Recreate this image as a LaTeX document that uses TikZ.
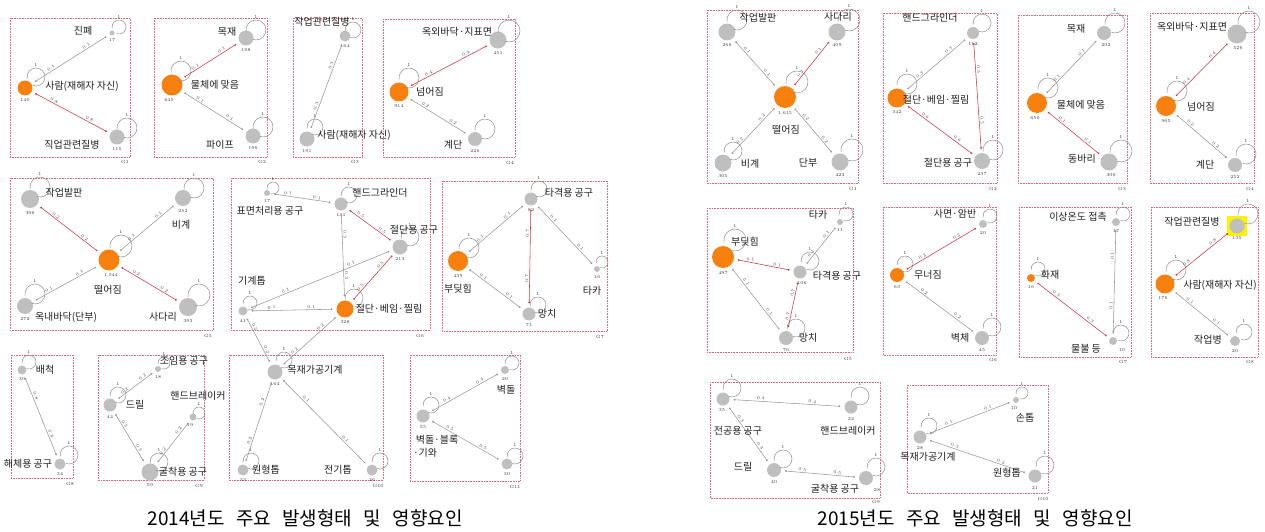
\documentclass[tikz,border=0pt]{standalone}
\usepackage{fontspec}
\newfontfamily\kr{Noto Sans CJK KR}
\usetikzlibrary{arrows.meta,calc}
\definecolor{norange}{RGB}{247,128,14}
\definecolor{ngray}{RGB}{191,191,191}
\definecolor{ered}{RGB}{200,55,70}
\definecolor{egray}{RGB}{150,150,150}
\definecolor{lgray}{RGB}{140,140,140}
\definecolor{boxred}{RGB}{232,100,120}
\tikzset{
 gn/.style={circle, fill=ngray, inner sep=0pt},
 on/.style={circle, fill=norange, inner sep=0pt},
 num/.style={font=\fontsize{4.5}{5}\selectfont, inner sep=0pt, text=black!80},
 lbl/.style={font=\kr\fontsize{10}{11}\selectfont, inner sep=0pt, text=black!88},
 el/.style={font=\fontsize{4.5}{5}\selectfont, sloped, above=0.6pt, inner sep=0.5pt, text=black!70},
 ge/.style={draw=egray, line width=.55pt, arrows={Circle[length=1.8pt]-Circle[length=1.8pt]}, shorten <=4pt, shorten >=4pt},
 re/.style={ge, draw=ered},
 lps/.style={draw=lgray, line width=.5pt},
 gbox/.style={draw=boxred, densely dotted, line width=.6pt},
 captxt/.style={font=\kr\fontsize{19}{22}\selectfont, inner sep=0pt},
}
\newcommand\nd[7]{\node[#2, minimum size=#5pt] (#1) at (#3,#4) {};
  \node[num] (#1n) at ({#3+#7},{#4+#5/2+5}) {#6};}
\newcommand\lp[4]{\draw[lps] ($(#1)+(#2,#3)$) ++(-250:#4) arc[start angle=-250, end angle=-550, radius=#4];
  \node[num] (#1l) at ($(#1)+(#2,{#3-#4-3})$) {1};}
\newcommand\ed[5]{\draw[#1] (#2) -- (#3) node[el,pos=.27]{#4} node[el,pos=.72]{#5};}
\newcommand\lb[4]{\node[lbl] (#1) at (#2,#3) {#4};}
\begin{document}
\begin{tikzpicture}[x=1pt,y=-1pt]
\useasboundingbox (0,0) rectangle (1265,532);
% ================= 2014 =================
\draw[gbox] (10,18) rectangle (130,157); \node[num] (ag1) at (125,162) {G1};
\draw[gbox] (154,18) rectangle (267,157); \node[num] (ag2) at (262,162) {G2};
\draw[gbox] (293,18) rectangle (362,157); \node[num] (ag3) at (355,162) {G3};
\draw[gbox] (383,19) rectangle (515,157); \node[num] (ag4) at (510,163) {G4};
\draw[gbox] (10,178) rectangle (213,330); \node[num] (ag5) at (208,336) {G5};
\draw[gbox] (231,178) rectangle (430,330); \node[num] (ag6) at (420,336) {G6};
\draw[gbox] (442,181) rectangle (607,331); \node[num] (ag7) at (600,337) {G7};
\draw[gbox] (11,355) rectangle (73,478); \node[num] (ag8) at (70,484) {G8};
\draw[gbox] (98,355) rectangle (204,480); \node[num] (ag9) at (199,486) {G9};
\draw[gbox] (229,355) rectangle (383,480); \node[num] (ag10) at (378,486) {G10};
\draw[gbox] (410,355) rectangle (520,481); \node[num] (ag11) at (515,487) {G11};
% nodes
\nd{a1j}{gn}{112}{33}{5}{17}{0}
\nd{a1s}{on}{25}{88}{15}{140}{0}
\nd{a1d}{gn}{117}{137}{15}{115}{0}
\nd{a2m}{gn}{246}{38}{15}{198}{0}
\nd{a2h}{on}{172}{85}{21}{645}{-3}
\nd{a2p}{gn}{253}{136}{15}{196}{0}
\nd{a3d}{gn}{345}{36}{11}{164}{0}
\nd{a3s}{gn}{307}{139}{15}{191}{0}
\nd{a4o}{gn}{498}{40}{17}{451}{0}
\nd{a4n}{on}{399}{92}{19}{914}{0}
\nd{a4g}{gn}{475}{139}{14}{226}{0}
\nd{a5b}{gn}{30}{199}{18}{396}{0}
\nd{a5v}{gn}{183}{198}{16}{252}{0}
\nd{a5f}{on}{109}{260}{21}{1,544}{2}
\nd{a5o}{gn}{25}{306}{16}{272}{0}
\nd{a5l}{gn}{188}{307}{18}{393}{0}
\nd{a6s}{gn}{267}{193}{6}{17}{0}
\nd{a6h}{gn}{341}{204}{13}{131}{0}
\nd{a6c}{gn}{400}{247}{15}{213}{0}
\nd{a6k}{gn}{243}{311}{9}{41}{0}
\nd{a6b}{on}{345}{309}{17}{328}{0}
\nd{a7t}{gn}{531}{199}{13}{82}{0}
\nd{a7b}{on}{458}{261}{20}{439}{0}
\nd{a7k}{gn}{597}{269}{6}{16}{0}
\nd{a7m}{gn}{529}{314}{13}{71}{0}
\nd{a8b}{gn}{22}{370}{9}{30}{0}
\nd{a8h}{gn}{60}{464}{11}{34}{0}
\nd{a9j}{gn}{158}{369}{6}{18}{0}
\nd{a9d}{gn}{110}{405}{13}{44}{0}
\nd{a9h}{gn}{193}{417}{7}{19}{-3}
\nd{a9g}{gn}{150}{472}{17}{59}{0}
\nd{a10m}{gn}{275}{372}{15}{164}{0}
\nd{a10r}{gn}{243}{470}{11}{33}{0}
\nd{a10e}{gn}{372}{470}{11}{26}{0}
\nd{a11w}{gn}{505}{370}{8}{20}{0}
\nd{a11b}{gn}{423}{416}{13}{55}{0}
\nd{a11k}{gn}{507}{464}{11}{30}{0}
% loops
\lp{a1j}{7}{-6}{7} \lp{a1s}{11}{-11}{9} \lp{a1d}{10}{-9}{10}
\lp{a2m}{10}{-8}{10} \lp{a2h}{9}{-14}{10} \lp{a2p}{10}{-9}{10}
\lp{a3d}{8}{-6}{8} \lp{a3s}{8}{-12}{8}
\lp{a4o}{11}{-9}{11} \lp{a4n}{10}{-14}{10} \lp{a4g}{10}{-10}{10}
\lp{a5b}{10}{-12}{10} \lp{a5v}{11}{-10}{10} \lp{a5f}{12}{-14}{11} \lp{a5o}{10}{-12}{10} \lp{a5l}{11}{-12}{11}
\lp{a6s}{6}{-5}{6} \lp{a6h}{8}{-9}{8} \lp{a6c}{10}{-10}{9} \lp{a6k}{7}{-8}{7} \lp{a6b}{9}{-11}{9}
\lp{a7t}{8}{-10}{8} \lp{a7b}{11}{-13}{10} \lp{a7k}{5}{-7}{6} \lp{a7m}{9}{-9}{8}
\lp{a8b}{7}{-8}{7} \lp{a8h}{9}{-9}{9}
\lp{a9j}{6}{-6}{6} \lp{a9d}{8}{-10}{8} \lp{a9h}{6}{-4}{6} \lp{a9g}{9}{-10}{9}
\lp{a10m}{9}{-12}{8} \lp{a10r}{8}{-9}{8} \lp{a10e}{8}{-9}{8}
\lp{a11w}{7}{-7}{7} \lp{a11b}{8}{-11}{8} \lp{a11k}{8}{-8}{8}
% edges
\ed{ge}{a1s}{a1j}{0.1}{0.1}
\ed{re}{a1s}{a1d}{0.8}{0.8}
\ed{re}{a2h}{a2m}{0.1}{0.1}
\ed{ge}{a2h}{a2p}{0.1}{0.1}
\ed{ge}{a3s}{a3d}{0.3}{0.3}
\ed{re}{a4n}{a4o}{0.4}{0.4}
\ed{ge}{a4n}{a4g}{0.2}{0.2}
\ed{re}{a5b}{a5f}{0.2}{0.2}
\ed{ge}{a5f}{a5v}{0.1}{0.1}
\ed{ge}{a5o}{a5f}{0.1}{0.1}
\ed{re}{a5f}{a5l}{0.2}{0.2}
\ed{ge}{a6s}{a6h}{0.1}{0.1}
\ed{ge}{a6h}{a6b}{0.3}{0.3}
\ed{re}{a6h}{a6c}{0.5}{0.5}
\ed{ge}{a6k}{a6c}{0.1}{0.1}
\ed{ge}{a6k}{a6b}{0.1}{0.1}
\ed{re}{a6b}{a6c}{0.5}{0.5}
\ed{ge}{a6k}{a10m}{0.2}{0.2}
\ed{ge}{a10m}{a6b}{0.2}{0.2}
\ed{ge}{a7b}{a7t}{0.1}{0.1}
\ed{re}{a7t}{a7m}{0.7}{0.7}
\ed{ge}{a7t}{a7k}{0.1}{0.1}
\ed{ge}{a7b}{a7m}{0.1}{0.1}
\ed{ge}{a8b}{a8h}{0.8}{0.8}
\ed{ge}{a9d}{a9j}{0.2}{0.2}
\ed{ge}{a9d}{a9g}{0.5}{0.5}
\ed{ge}{a9g}{a9h}{0.2}{0.2}
\ed{ge}{a10r}{a10m}{0.2}{0.2}
\ed{ge}{a10m}{a10e}{0.1}{0.1}
\ed{ge}{a11b}{a11w}{0.4}{0.4}
\ed{ge}{a11b}{a11k}{0.5}{0.5}
% labels
\lb{ta1j}{83}{31}{진폐}
\lb{ta1s}{82}{86}{사람(재해자 자신)}
\lb{ta1d}{72}{145}{직업관련질병}
\lb{ta2m}{227}{32}{목재}
\lb{ta2h}{215}{85}{물체에 맞음}
\lb{ta2p}{220}{145}{파이프}
\lb{ta3d}{322}{22}{작업관련질병}
\lb{ta3s}{354}{135}{사람(재해자 자신)}
\lb{ta4o}{457}{32}{옥외바닥·지표면}
\lb{ta4n}{430}{92}{넘어짐}
\lb{ta4g}{453}{145}{계단}
\lb{ta5b}{64}{193}{작업발판}
\lb{ta5v}{181}{225}{비계}
\lb{ta5f}{108}{290}{떨어짐}
\lb{ta5o}{66}{317}{옥내바닥(단부)}
\lb{ta5l}{163}{317}{사다리}
\lb{ta6s}{270}{211}{표면처리용 공구}
\lb{ta6h}{380}{193}{핸드그라인더}
\lb{ta6c}{414}{230}{절단용 공구}
\lb{ta6k}{252}{281}{기계톱}
\lb{ta6b}{389}{309}{절단·베임·찔림}
\lb{ta7t}{569}{193}{타격용 공구}
\lb{ta7b}{458}{289}{부딪힘}
\lb{ta7k}{592}{291}{타카}
\lb{ta7m}{547}{314}{망치}
\lb{ta8b}{45}{370}{배척}
\lb{ta8h}{28}{464}{해체용 공구}
\lb{ta9j}{184}{361}{조임용 공구}
\lb{ta9d}{135}{405}{드릴}
\lb{ta9h}{198}{396}{핸드브레이커}
\lb{ta9g}{183}{472}{굴착용 공구}
\lb{ta10m}{315}{370}{목재가공기계}
\lb{ta10r}{266}{470}{원형톱}
\lb{ta10e}{338}{470}{전기톱}
\lb{ta11w}{506}{390}{벽돌}
\lb{ta11b}{437}{440}{벽돌·블록}
\lb{ta11c}{425}{453}{·기와}
\node[captxt] (capa) at (305,518) {2014년도\hspace{0.6em}주요\hspace{0.6em}발생형태\hspace{0.6em}및\hspace{0.6em}영향요인};
% ================= 2015 =================
\draw[gbox] (707,10) rectangle (858,183); \node[num] (bg1) at (853,189) {G1};
\draw[gbox] (883,13) rectangle (997,183); \node[num] (bg2) at (993,189) {G2};
\draw[gbox] (1018,15) rectangle (1127,183); \node[num] (bg3) at (1122,189) {G3};
\draw[gbox] (1150,13) rectangle (1254,183); \node[num] (bg4) at (1250,189) {G4};
\draw[gbox] (707,208) rectangle (853,352); \node[num] (bg5) at (848,359) {G5};
\draw[gbox] (883,207) rectangle (996,355); \node[num] (bg6) at (993,360) {G6};
\draw[gbox] (1019,207) rectangle (1131,357); \node[num] (bg7) at (1123,362) {G7};
\draw[gbox] (1151,207) rectangle (1258,357); \node[num] (bg8) at (1250,362) {G8};
\draw[gbox] (710,382) rectangle (880,498); \node[num] (bg9) at (876,502) {G9};
\draw[gbox] (907,385) rectangle (1048,493); \node[num] (bg10) at (1043,499) {G10};
\node[fill=yellow, minimum size=20pt, inner sep=0pt] (b8y) at (1237,226) {};
\nd{b1b}{gn}{727}{32}{17}{266}{0}
\nd{b1l}{gn}{837}{32}{17}{409}{0}
\nd{b1f}{on}{785}{97}{22}{1,615}{0}
\nd{b1v}{gn}{723}{163}{17}{305}{0}
\nd{b1d}{gn}{840}{162}{17}{423}{0}
\nd{b2h}{gn}{973}{33}{12}{112}{0}
\nd{b2b}{on}{897}{98}{19}{342}{0}
\nd{b2c}{gn}{982}{161}{16}{237}{0}
\nd{b3m}{gn}{1104}{33}{14}{202}{2}
\nd{b3h}{on}{1037}{103}{20}{650}{-2}
\nd{b3d}{gn}{1109}{162}{17}{300}{2}
\nd{b4o}{gn}{1237}{34}{19}{526}{1}
\nd{b4n}{on}{1166}{106}{20}{965}{0}
\nd{b4g}{gn}{1235}{165}{14}{252}{0}
\nd{b5k}{gn}{840}{222}{6}{11}{0}
\nd{b5b}{on}{723}{257}{22}{497}{0}
\nd{b5t}{gn}{800}{272}{13}{106}{2}
\nd{b5m}{gn}{786}{338}{14}{76}{0}
\nd{b6s}{gn}{983}{224}{8}{20}{0}
\nd{b6n}{on}{897}{275}{14}{63}{0}
\nd{b6w}{gn}{982}{338}{14}{45}{0}
\nd{b7t}{gn}{1116}{222}{8}{17}{0}
\nd{b7f}{on}{1031}{278}{8}{16}{0}
\nd{b7w}{gn}{1113}{341}{8}{10}{9}
\nd{b8d}{gn}{1237}{226}{15}{135}{0}
\nd{b8s}{on}{1165}{284}{19}{176}{-2}
\nd{b8w}{gn}{1235}{341}{10}{20}{0}
\nd{b9p}{gn}{723}{399}{13}{35}{-1}
\nd{b9h}{gn}{851}{407}{13}{22}{0}
\nd{b9d}{gn}{774}{470}{14}{40}{0}
\nd{b9g}{gn}{866}{478}{14}{28}{11}
\nd{b10s}{gn}{1016}{400}{6}{10}{-2}
\nd{b10m}{gn}{920}{437}{13}{28}{0}
\nd{b10r}{gn}{1035}{476}{13}{21}{0}
\lp{b1b}{10}{-12}{10} \lp{b1l}{12}{-12}{11} \lp{b1f}{12}{-15}{11} \lp{b1v}{10}{-12}{9} \lp{b1d}{12}{-12}{11}
\lp{b2h}{9}{-10}{9} \lp{b2b}{10}{-14}{10} \lp{b2c}{11}{-11}{10}
\lp{b3m}{11}{-10}{10} \lp{b3h}{11}{-15}{10} \lp{b3d}{12}{-11}{11}
\lp{b4o}{12}{-12}{11} \lp{b4n}{11}{-15}{10} \lp{b4g}{11}{-11}{10}
\lp{b5k}{6}{-8}{7} \lp{b5b}{12}{-17}{11} \lp{b5t}{10}{-11}{9} \lp{b5m}{10}{-10}{9}
\lp{b6s}{7}{-8}{7} \lp{b6n}{8}{-11}{8} \lp{b6w}{10}{-11}{9}
\lp{b7t}{7}{-8}{7} \lp{b7f}{7}{-9}{7} \lp{b7w}{8}{-8}{8}
\lp{b8d}{11}{-12}{10} \lp{b8s}{11}{-14}{10} \lp{b8w}{9}{-9}{8}
\lp{b9p}{9}{-11}{9} \lp{b9h}{9}{-11}{9} \lp{b9d}{9}{-11}{9} \lp{b9g}{10}{-11}{9}
\lp{b10s}{6}{-7}{6} \lp{b10m}{9}{-11}{8} \lp{b10r}{10}{-11}{9}
\ed{ge}{b1b}{b1f}{0.1}{0.1}
\ed{re}{b1f}{b1l}{0.1}{0.1}
\ed{ge}{b1v}{b1f}{0.2}{0.2}
\ed{ge}{b1f}{b1d}{0.2}{0.2}
\ed{ge}{b2b}{b2h}{0.3}{0.3}
\ed{re}{b2h}{b2c}{0.5}{0.5}
\ed{re}{b2b}{b2c}{0.6}{0.6}
\ed{ge}{b3h}{b3m}{0.1}{0.1}
\ed{re}{b3h}{b3d}{0.1}{0.1}
\ed{re}{b4n}{b4o}{0.4}{0.4}
\ed{ge}{b4n}{b4g}{0.2}{0.2}
\ed{re}{b5b}{b5t}{0.1}{0.1}
\ed{ge}{b5t}{b5k}{0.1}{0.1}
\ed{re}{b5m}{b5t}{0.7}{0.7}
\ed{ge}{b5b}{b5m}{0.1}{0.1}
\ed{re}{b6n}{b6s}{0.2}{0.2}
\ed{ge}{b6n}{b6w}{0.2}{0.2}
\ed{re}{b7f}{b7w}{0.3}{0.3}
\ed{ge}{b7t}{b7w}{0.1}{0.1}
\ed{re}{b8s}{b8d}{0.8}{0.8}
\ed{ge}{b8s}{b8w}{0.1}{0.1}
\ed{ge}{b9p}{b9h}{0.4}{0.4}
\ed{ge}{b9p}{b9d}{0.3}{0.3}
\ed{ge}{b9d}{b9g}{0.5}{0.5}
\ed{ge}{b10m}{b10s}{0.1}{0.1}
\ed{ge}{b10m}{b10r}{0.3}{0.2}
\lb{tb1b}{758}{18}{작업발판}
\lb{tb1l}{838}{17}{사다리}
\lb{tb1f}{786}{130}{떨어짐}
\lb{tb1v}{750}{164}{비계}
\lb{tb1d}{808}{163}{단부}
\lb{tb2h}{930}{18}{핸드그라인더}
\lb{tb2b}{936}{100}{절단·베임·찔림}
\lb{tb2c}{948}{163}{절단용 공구}
\lb{tb3m}{1076}{29}{목재}
\lb{tb3h}{1081}{105}{물체에 맞음}
\lb{tb3d}{1082}{159}{동바리}
\lb{tb4o}{1192}{27}{옥외바닥·지표면}
\lb{tb4n}{1201}{107}{넘어짐}
\lb{tb4g}{1205}{165}{계단}
\lb{tb5k}{818}{215}{타카}
\lb{tb5b}{745}{242}{부딪힘}
\lb{tb5t}{837}{276}{타격용 공구}
\lb{tb5m}{808}{338}{망치}
\lb{tb6s}{955}{214}{사면·암반}
\lb{tb6n}{928}{275}{무너짐}
\lb{tb6w}{960}{338}{벽체}
\lb{tb7t}{1078}{217}{이상온도 접촉}
\lb{tb7f}{1050}{275}{화재}
\lb{tb7w}{1086}{349}{물불 등}
\lb{tb8d}{1192}{222}{작업관련질병}
\lb{tb8s}{1220}{285}{사람(재해자 자신)}
\lb{tb8w}{1208}{340}{작업병}
\lb{tb9p}{738}{431}{전공용 공구}
\lb{tb9h}{848}{431}{핸드브레이커}
\lb{tb9d}{743}{467}{드릴}
\lb{tb9g}{835}{489}{굴착용 공구}
\lb{tb10s}{1025}{418}{손톱}
\lb{tb10m}{928}{457}{목재가공기계}
\lb{tb10r}{1007}{473}{원형톱}
\node[captxt] (capb) at (975,518) {2015년도\hspace{0.6em}주요\hspace{0.6em}발생형태\hspace{0.6em}및\hspace{0.6em}영향요인};
\end{tikzpicture}
\end{document}
